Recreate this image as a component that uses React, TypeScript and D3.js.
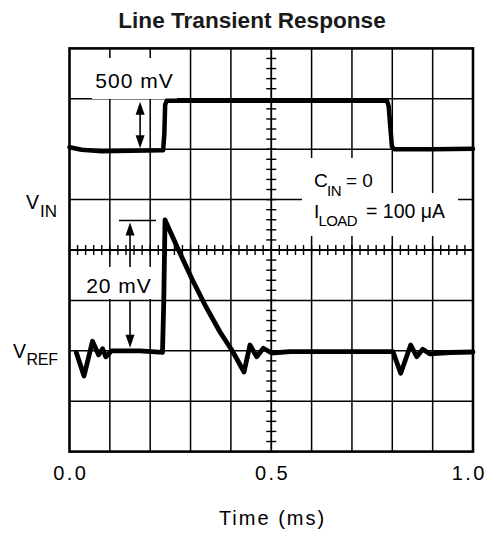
import React from "react";
import * as d3 from "d3";

// ---- data (time in ms, amplitude in scope divisions, centre line = 0) ----
const xTickLabels = ["0.0", "0.5", "1.0"];
const xTickValues = [0, 0.5, 1.0];

const vinTime = [0, 0.03, 0.08, 0.15, 0.232, 0.235, 0.237, 0.241, 0.5, 0.787, 0.791, 0.799, 0.805, 0.9, 1.0];
const vinDiv = [2.04, 1.99, 1.96, 1.97, 1.98, 2.3, 2.88, 2.96, 2.96, 2.96, 2.85, 2.05, 2.0, 2.0, 2.01];

const vrefTime = [0.017, 0.036, 0.057, 0.072, 0.082, 0.09, 0.104, 0.175, 0.2305, 0.2337, 0.2367, 0.269, 0.3036, 0.3383, 0.373, 0.4052, 0.4325, 0.4473, 0.464, 0.4803, 0.501, 0.5465, 0.8017, 0.8208, 0.8456, 0.8605, 0.8754, 0.8934, 0.943, 1.0];
const vrefDiv = [-2.04, -2.5, -1.81, -2.08, -1.96, -2.12, -2.0, -2.0, -2.03, -0.99, 0.595, 0.02, -0.575, -1.13, -1.627, -2.024, -2.42, -1.885, -2.117, -1.95, -2.044, -2.018, -2.018, -2.446, -1.885, -2.117, -1.97, -2.063, -2.034, -2.024];

const W = 491;
const H = 533;
const FONT = "'Liberation Sans', Arial, Helvetica, sans-serif";

export default function App() {
  const x = d3.scaleLinear().domain([0, 1]).range([69.5, 473]);
  const y = d3.scaleLinear().domain([-4, 4]).range([451.6, 48.4]);

  const line = d3
    .line<number>()
    .x((_, i) => x(vinTime[i]))
    .y((d) => y(d));
  const vinPath = line(vinDiv) || "";
  const vrefLine = d3
    .line<number>()
    .x((_, i) => x(vrefTime[i]))
    .y((d) => y(d));
  const vrefPath = vrefLine(vrefDiv) || "";

  const vGrid = d3.range(1, 10).map((i) => i / 10);
  const hGrid = d3.range(-3, 4);
  const xMinor = d3.range(0, 51).map((i) => i * 0.02);
  const yMinor = d3.range(-20, 21).map((i) => i * 0.2);

  const [x0, x1] = x.range();
  const [y0, y1] = [y(4), y(-4)];
  const cx = x(0.5);
  const cy = y(0);

  const arrowUp = (ax: number, tip: number) =>
    `M${ax},${tip} L${ax - 4.5},${tip + 13} L${ax + 4.5},${tip + 13} Z`;
  const arrowDown = (ax: number, tip: number) =>
    `M${ax},${tip} L${ax - 4.5},${tip - 13} L${ax + 4.5},${tip - 13} Z`;

  const ax500 = x(0.175);
  const ax20 = x(0.15);
  const scope = { fontFamily: FONT, fill: "#000" } as const;

  return (
    <svg width={W} height={H} style={{ position: "absolute", left: 0, top: 0, background: "#fff" }}>
      <rect width={W} height={H} fill="#fff" />
      <text x={252} y={27.5} textAnchor="middle" fontFamily={FONT} fontWeight="bold" fontSize={22.6} fill="#1a1a1a">
        Line Transient Response
      </text>

      {/* grid */}
      {vGrid.map((t) => (
        <line key={"v" + t} x1={x(t)} x2={x(t)} y1={y0} y2={y1} stroke="#000" strokeWidth={t === 0.5 ? 1.8 : 1.5} />
      ))}
      {hGrid.map((d) => (
        <line key={"h" + d} x1={x0} x2={x1} y1={y(d)} y2={y(d)} stroke="#000" strokeWidth={d === 0 ? 1.8 : 1.5} />
      ))}
      {xMinor.map((t) => (
        <line key={"xm" + t} x1={x(t)} x2={x(t)} y1={cy - 5} y2={cy + 5} stroke="#000" strokeWidth={1.4} />
      ))}
      {yMinor.map((d) => (
        <line key={"ym" + d} x1={cx - 5} x2={cx + 5} y1={y(d)} y2={y(d)} stroke="#000" strokeWidth={1.4} />
      ))}
      <rect x={x0} y={y0} width={x1 - x0} height={y1 - y0} fill="none" stroke="#000" strokeWidth={2.6} />

      {/* label backgrounds */}
      <rect x={92} y={58} width={85} height={41} fill="#fff" />
      <rect x={84} y={267} width={70} height={32} fill="#fff" />
      <rect x={303} y={158} width={82} height={36} fill="#fff" />
      <rect x={302} y={193} width={156} height={43} fill="#fff" />

      {/* traces */}
      <path d={vinPath} fill="none" stroke="#000" strokeWidth={4.5} strokeLinejoin="round" strokeLinecap="round" />
      <path d={vrefPath} fill="none" stroke="#000" strokeWidth={4.8} strokeLinejoin="round" strokeLinecap="round" />

      {/* 500 mV marker */}
      <line x1={ax500} x2={ax500} y1={y(2.96) + 8} y2={y(2.0) - 8} stroke="#000" strokeWidth={1.6} />
      <path d={arrowUp(ax500, y(2.96) + 1)} fill="#000" />
      <path d={arrowDown(ax500, y(2.0) - 1)} fill="#000" />
      <text x={134.5} y={87.5} textAnchor="middle" fontSize={21} letterSpacing={1} {...scope}>
        500 mV
      </text>

      {/* 20 mV marker */}
      <line x1={119} x2={156} y1={y(0.585)} y2={y(0.585)} stroke="#000" strokeWidth={1.6} />
      <line x1={ax20} x2={ax20} y1={y(0.585) + 8} y2={267} stroke="#000" strokeWidth={1.6} />
      <path d={arrowUp(ax20, y(0.585) + 2)} fill="#000" />
      <line x1={ax20} x2={ax20} y1={301} y2={y(-1.94) - 8} stroke="#000" strokeWidth={1.6} />
      <path d={arrowDown(ax20, y(-1.94))} fill="#000" />
      <text x={119} y={292.5} textAnchor="middle" fontSize={21} letterSpacing={1} {...scope}>
        20 mV
      </text>

      {/* conditions */}
      <text x={314} y={187} fontSize={19} {...scope}>C</text>
      <text x={327} y={196} fontSize={15} letterSpacing={-0.3} {...scope}>IN</text>
      <text x={346} y={187} fontSize={19} {...scope}>= 0</text>
      <text x={314} y={218} fontSize={19} {...scope}>I</text>
      <text x={318.5} y={226} fontSize={15} letterSpacing={-0.6} {...scope}>LOAD</text>
      <text x={366} y={218} fontSize={19.5} {...scope}>= 100 μA</text>

      {/* side labels */}
      <text x={26} y={209} fontSize={19.5} {...scope}>V</text>
      <text x={40} y={217} fontSize={17} {...scope}>IN</text>
      <text x={13} y={358} fontSize={19.5} {...scope}>V</text>
      <text x={26.5} y={365} fontSize={16} letterSpacing={-0.3} {...scope}>REF</text>

      {/* x axis */}
      {xTickValues.map((t, i) => (
        <text key={"xl" + t} x={Math.min(x(t), W - 23) + 1.2} y={480} textAnchor="middle" fontSize={20} letterSpacing={2.4} {...scope}>
          {xTickLabels[i]}
        </text>
      ))}
      <text x={272.5} y={525} textAnchor="middle" fontSize={20} letterSpacing={2} {...scope}>
        Time (ms)
      </text>
    </svg>
  );
}
